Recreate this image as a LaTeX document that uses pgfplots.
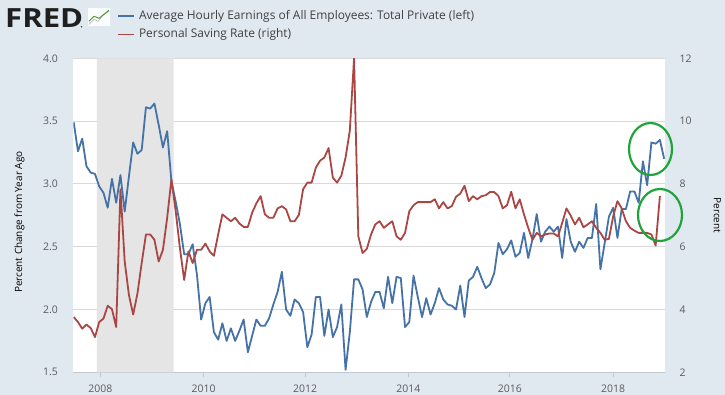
\documentclass[border=0pt]{standalone}
\usepackage{fontspec}
\setmainfont{Open Sans}
\usepackage{pgfplots}
\pgfplotsset{compat=1.18}
\usepackage{pgfplotstable}
\definecolor{fredbg}{HTML}{E1E9F0}
\definecolor{fredblue}{HTML}{4572A7}
\definecolor{fredred}{HTML}{AA4643}
\definecolor{fredgrid}{HTML}{D9D9D9}
\definecolor{fredshade}{HTML}{E5E5E5}
\definecolor{fredtext}{HTML}{5A5A5A}
\definecolor{fredgreen}{HTML}{1FA33A}
\definecolor{fredaxis}{HTML}{C0C8D2}

% index = month number since mid-2007
\pgfplotstableread{
i v
0 3.49
1 3.26
2 3.36
3 3.14
4 3.09
5 3.08
6 2.98
7 2.93
8 2.81
9 3.04
10 2.85
11 3.07
12 2.78
13 3.06
14 3.33
15 3.24
16 3.27
17 3.61
18 3.60
19 3.64
20 3.47
21 3.29
22 3.42
23 3.02
24 2.86
25 2.68
26 2.44
27 2.44
28 2.52
29 2.28
30 1.92
31 2.05
32 2.10
33 1.82
34 1.76
35 1.89
36 1.75
37 1.85
38 1.75
39 1.83
40 1.92
41 1.66
42 1.79
43 1.92
44 1.87
45 1.87
46 1.93
47 2.04
48 2.14
49 2.30
50 2.00
51 1.95
52 2.08
53 2.05
54 1.98
55 1.70
56 1.80
57 2.10
58 2.10
59 1.79
60 2.00
61 1.78
62 1.86
63 2.04
64 1.52
65 1.82
66 2.24
67 2.24
68 2.16
69 1.94
70 2.06
71 2.14
72 2.14
73 2.01
74 2.26
75 2.05
76 2.26
77 2.25
78 1.86
79 1.90
80 2.27
81 2.10
82 1.94
83 2.09
84 1.96
85 2.05
86 2.17
87 2.08
88 2.04
89 2.03
90 2.00
91 2.19
92 1.94
93 2.23
94 2.26
95 2.34
96 2.25
97 2.17
98 2.20
99 2.29
100 2.53
101 2.44
102 2.48
103 2.55
104 2.42
105 2.45
106 2.61
107 2.41
108 2.56
109 2.76
110 2.54
111 2.62
112 2.66
113 2.62
114 2.66
115 2.41
116 2.72
117 2.54
118 2.46
119 2.54
120 2.49
121 2.57
122 2.57
123 2.84
124 2.32
125 2.53
126 2.74
127 2.81
128 2.57
129 2.80
130 2.80
131 2.94
132 2.94
133 2.85
134 3.18
135 2.99
136 3.33
137 3.32
138 3.35
139 3.20
}\ahe

\pgfplotstableread{
i v
0 3.76
1 3.60
2 3.39
3 3.52
4 3.41
5 3.12
6 3.60
7 3.71
8 4.12
9 4.01
10 3.44
11 7.83
12 5.53
13 4.46
14 3.84
15 4.51
16 5.48
17 6.39
18 6.39
19 6.22
20 5.53
21 5.90
22 6.92
23 8.15
24 7.13
25 5.96
26 4.94
27 5.85
28 5.48
29 5.90
30 5.90
31 6.10
32 5.85
33 5.71
34 6.39
35 7.03
36 6.92
37 6.81
38 6.92
39 6.74
40 6.63
41 6.63
42 7.08
43 7.38
44 7.61
45 7.03
46 6.92
47 6.92
48 7.22
49 7.29
50 7.19
51 6.81
52 6.81
53 7.01
54 7.83
55 8.04
56 8.04
57 8.52
58 8.74
59 8.84
60 9.14
61 8.20
62 8.04
63 8.26
64 8.84
65 9.70
66 12.0
67 6.33
68 5.80
69 5.93
70 6.39
71 6.71
72 6.81
73 6.60
74 6.71
75 6.81
76 6.33
77 6.22
78 6.44
79 7.13
80 7.32
81 7.42
82 7.42
83 7.42
84 7.42
85 7.51
86 7.22
87 7.42
88 7.22
89 7.29
90 7.59
91 7.69
92 7.94
93 7.45
94 7.61
95 7.51
96 7.61
97 7.64
98 7.74
99 7.74
100 7.61
101 7.22
102 7.32
103 7.75
104 7.22
105 7.51
106 7.03
107 6.60
108 6.22
109 6.44
110 6.33
111 6.39
112 6.42
113 6.42
114 6.33
115 6.76
116 7.22
117 6.99
118 6.71
119 6.92
120 6.62
121 6.71
122 6.81
123 6.60
124 6.44
125 6.22
126 6.25
127 6.97
128 7.45
129 7.22
130 6.81
131 6.60
132 6.51
133 6.44
134 6.44
135 6.44
136 6.39
137 6.04
138 7.61
}\psr

\pgfplotsset{
  fredbase/.style={
    scale only axis, width=591.7bp, height=314bp,
    at={(0,0)}, anchor=south west,
    xmin=-0.1, xmax=139.2,
    /pgf/number format/assume math mode=true,
    tick label style={font=\fontsize{10.5}{12}\selectfont, color=fredtext},
    label style={font=\fontsize{11.8}{13}\selectfont, color=fredtext},
  }
}

\begin{document}
\begin{tikzpicture}
\fill[fredbg] (-73.3bp,-22.7bp) rectangle (651.7bp,372.3bp);

\begin{axis}[fredbase,
  axis background/.style={fill=white},
  ymin=1.5, ymax=4.0,
  ytick={1.5,2.0,2.5,3.0,3.5,4.0},
  yticklabel style={/pgf/number format/fixed, /pgf/number format/fixed zerofill, /pgf/number format/precision=1, xshift=-12bp},
  ymajorgrids, grid style={fredgrid, line width=0.8bp},
  xtick={6.28,30.57,54.48,78.77,102.68,126.97},
  xticklabels={2008,2010,2012,2014,2016,2018},
  xticklabel style={yshift=-4bp},
  axis lines*=left,
  x axis line style={fredaxis, line width=0.8bp},
  y axis line style={draw=none},
  xtick style={fredaxis, line width=0.8bp},
  ytick style={draw=none},
  xtick align=outside, major tick length=5bp,
  ylabel={Percent Change from Year Ago},
  every axis y label/.style={at={(axis description cs:-0.091,0.478)}, rotate=90, anchor=center},
]
\addplot[fill=fredshade, draw=none] coordinates {(5.45,1.5) (23.5,1.5) (23.5,4.0) (5.45,4.0)} \closedcycle;
\addplot[fredblue, line width=1.8bp, line join=round] table[x=i, y=v] {\ahe};
\end{axis}

\begin{axis}[fredbase,
  ymin=2, ymax=12,
  ytick={2,4,...,12},
  hide x axis,
  axis y line*=right,
  y axis line style={draw=none},
  ytick style={draw=none},
  yticklabel style={xshift=11bp},
  ylabel={Percent},
  every axis y label/.style={at={(axis description cs:1.0887,0.50)}, rotate=-90, anchor=center},
]
\addplot[fredred, line width=1.8bp, line join=round] table[x=i, y=v] {\psr};
\end{axis}

% annotations
\draw[fredgreen, line width=2.2bp] (577.2bp,223.3bp) ellipse [x radius=21.5bp, y radius=26bp];
\draw[fredgreen, line width=2.2bp] (586.7bp,157.3bp) ellipse [x radius=22bp, y radius=26bp];

% header
\node[anchor=west, inner sep=0pt, text=black!88] at (-68.3bp,354.6bp)
  {\scalebox{1.2}[1.02]{\fontsize{26}{28}\selectfont\bfseries FRED}};
\fill[black!70] (8.2bp,345.6bp) circle (0.9bp);
\begin{scope}[shift={(14.7bp,346bp)}]
  \fill[white!85!fredbg] (0,0) rectangle (22bp,18bp);
  \draw[gray!55, line width=0.7bp] (1bp,2bp) -- (6bp,7bp) -- (10bp,5bp) -- (15bp,11bp) -- (21bp,15bp);
  \draw[fredgreen!60!olive, line width=0.9bp] (1bp,5bp) -- (6bp,10bp) -- (11bp,8bp) -- (21bp,16bp);
\end{scope}
\draw[fredblue, line width=1.6bp] (44.7bp,356.1bp) -- (60.7bp,356.1bp);
\node[anchor=west, inner sep=0pt, text=black!75, font=\fontsize{12}{14}\selectfont] at (65.5bp,356.1bp)
  {Average Hourly Earnings of All Employees: Total Private (left)};
\draw[fredred, line width=1.6bp] (44.7bp,337.9bp) -- (60.7bp,337.9bp);
\node[anchor=west, inner sep=0pt, text=black!75, font=\fontsize{12}{14}\selectfont] at (65.5bp,337.9bp)
  {Personal Saving Rate (right)};

\pgfresetboundingbox
\path (-73.3bp,-22.7bp) rectangle (651.7bp,372.3bp);
\end{tikzpicture}
\end{document}
